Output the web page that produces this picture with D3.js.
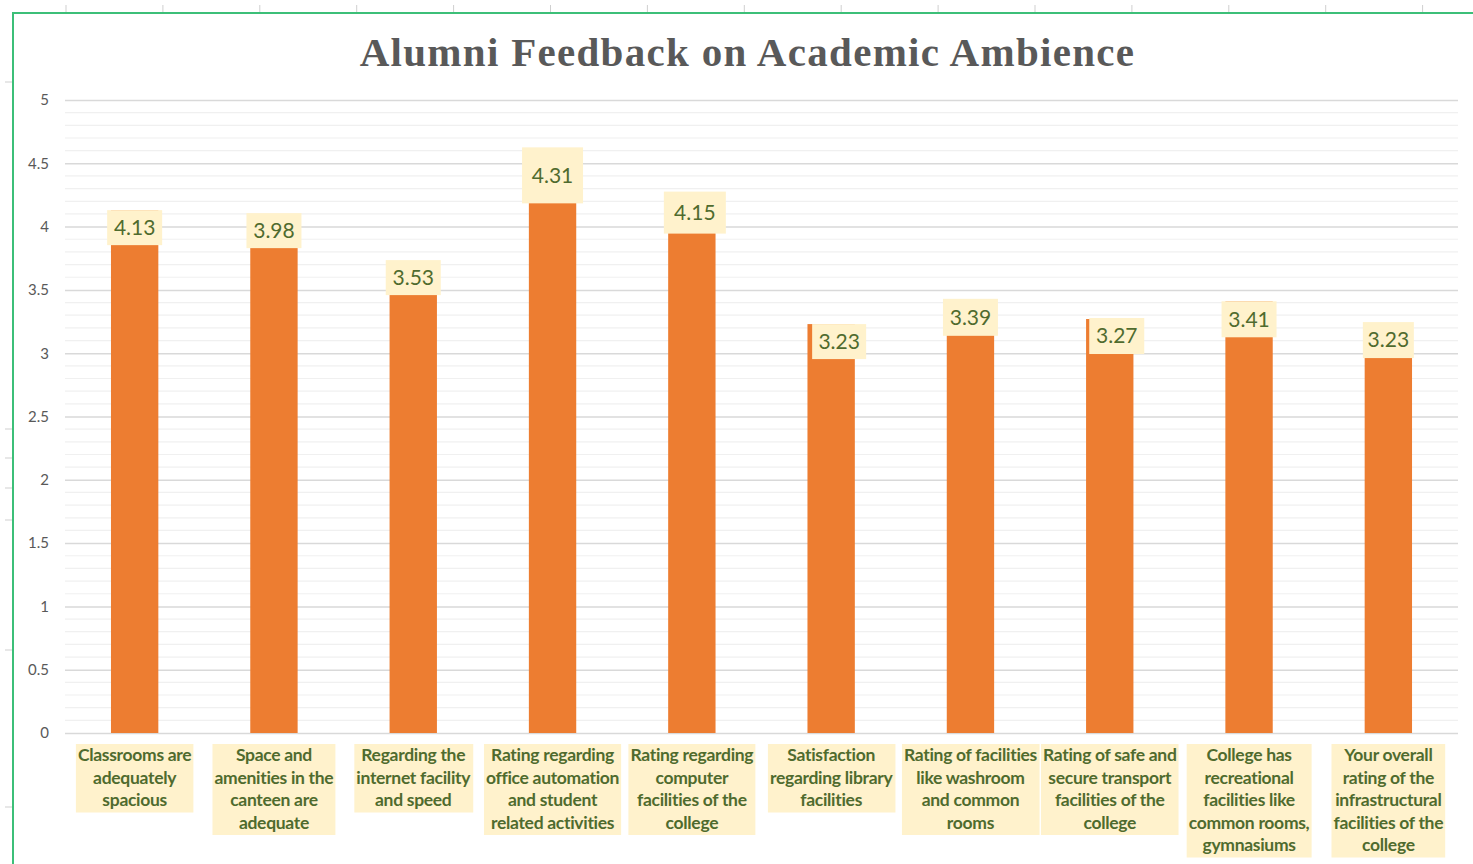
<!DOCTYPE html>
<html>
<head>
<meta charset="utf-8">
<script src="https://cdn.jsdelivr.net/npm/d3@7"></script>
<style>
  html, body { margin: 0; padding: 0; background: #fff; }
  svg { display: block; }
</style>
</head>
<body>
<div id="chart"></div>
<script>
// chart data
const categories = [
  ["Classrooms are", "adequately", "spacious"],
  ["Space and", "amenities in the", "canteen are", "adequate"],
  ["Regarding the", "internet facility", "and speed"],
  ["Rating regarding", "office automation", "and student", "related activities"],
  ["Rating regarding", "computer", "facilities of the", "college"],
  ["Satisfaction", "regarding library", "facilities"],
  ["Rating of facilities", "like washroom", "and common", "rooms"],
  ["Rating of safe and", "secure transport", "facilities of the", "college"],
  ["College has", "recreational", "facilities like", "common rooms,", "gymnasiums"],
  ["Your overall", "rating of the", "infrastructural", "facilities of the", "college"]
]
const values = [4.13, 3.98, 3.53, 4.31, 4.15, 3.23, 3.39, 3.27, 3.41, 3.23]
const yTicks = [0, 0.5, 1, 1.5, 2, 2.5, 3, 3.5, 4, 4.5, 5]
const title = "Alumni Feedback on Academic Ambience"

// label boxes were dragged around by hand in the original
// [dx from bar centre, box top relative to bar top, w, h]
const labelBox = [
  [0, 0, 55, 35], [0, -16, 55, 35], [0, -26, 55, 35], [0, -40, 61, 56], [3, -16, 62, 42],
  [8, 0, 54, 35], [0, -5, 55, 37], [7, -1, 55, 36], [0, 0, 55, 36], [0, -2, 51, 36]
]

const W = 1473, H = 864
const margin = {left: 65, right: 15, top: 100, bottom: 131}

const svg = d3.select("#chart")
    .append("svg")
    .attr("width", W)
    .attr("height", H)

// spreadsheet cell marks outside the chart frame
const colMarks = d3.range(66, W, 96.9)
svg.selectAll(".colmark").data(colMarks).enter()
    .append("line")
    .attr("x1", d => d).attr("x2", d => d)
    .attr("y1", 5).attr("y2", 12)
    .attr("stroke", "#cfcfcf")
const rowMarks = [82, 429, 458, 488, 520, 650, 807]
svg.selectAll(".rowmark").data(rowMarks).enter()
    .append("line")
    .attr("x1", 5).attr("x2", 12)
    .attr("y1", d => d).attr("y2", d => d)
    .attr("stroke", "#cfcfcf")

// green selection frame
svg.append("path")
    .attr("d", `M13,${H} L13,13 L${W},13`)
    .attr("fill", "none")
    .attr("stroke", "#3cbf78")
    .attr("stroke-width", 2)

const x = d3.scaleBand()
    .domain(d3.range(categories.length))
    .range([margin.left, W - margin.right])
    .paddingInner(0.66)
    .paddingOuter(0.33)

const y = d3.scaleLinear()
    .domain([0, 5])
    .range([H - margin.bottom, margin.top])

// minor grid
svg.append("g")
    .selectAll("line")
    .data(d3.range(0, 50).map(d => d / 10).filter(d => Math.round(d * 10) % 5 != 0))
    .enter().append("line")
    .attr("x1", margin.left).attr("x2", W - margin.right)
    .attr("y1", d => y(d)).attr("y2", d => y(d))
    .attr("stroke", "#f0f0f0")
    .attr("stroke-width", 1.2)

// major grid + labels via axis
const yAxis = d3.axisLeft(y)
    .tickValues(yTicks)
    .tickSize(-(W - margin.left - margin.right))
    .tickPadding(16)
    .tickFormat(d3.format("~g"))

const gy = svg.append("g")
    .attr("transform", `translate(${margin.left},0)`)
    .call(yAxis)
gy.select(".domain").remove()
gy.selectAll(".tick line").attr("stroke", "#d9d9d9").attr("stroke-width", 1.5)
gy.selectAll(".tick text")
    .attr("fill", "#595959")
    .style("font-family", "Lato, 'Open Sans', sans-serif")
    .style("font-size", "15px")

// bars
svg.append("g")
    .selectAll("rect")
    .data(values)
    .enter().append("rect")
    .attr("x", (d, i) => x(i))
    .attr("y", d => y(d))
    .attr("width", x.bandwidth())
    .attr("height", d => y(0) - y(d))
    .attr("fill", "#ed7d31")

// value labels
const vl = svg.append("g")
    .selectAll("g")
    .data(values)
    .enter().append("g")
    .attr("transform", (d, i) => `translate(${x(i) + x.bandwidth() / 2 + labelBox[i][0]},${y(d) + labelBox[i][1]})`)

vl.append("rect")
    .attr("x", (d, i) => -labelBox[i][2] / 2)
    .attr("y", 0)
    .attr("width", (d, i) => labelBox[i][2])
    .attr("height", (d, i) => labelBox[i][3])
    .attr("fill", "#fff2cc")

vl.append("text")
    .attr("text-anchor", "middle")
    .attr("y", (d, i) => labelBox[i][3] / 2)
    .attr("dy", "0.35em")
    .attr("fill", "#4f6b2e")
    .style("font-family", "Lato, 'Open Sans', sans-serif")
    .style("font-size", "21px")
    .text(d => d.toFixed(2))

// category labels
const cl = svg.append("g")
    .selectAll("g")
    .data(categories)
    .enter().append("g")
    .attr("transform", (d, i) => `translate(${x(i) + x.bandwidth() / 2},${y(0) + 11})`)

const lineH = 22.5
const cText = cl.append("text")
    .attr("text-anchor", "middle")
    .attr("fill", "#4f6b2e")
    .style("font-family", "Lato, 'Open Sans', sans-serif")
    .style("font-size", "17.5px")
    .style("font-weight", "bold")
    .style("letter-spacing", "-0.3px")

cText.selectAll("tspan")
    .data(d => d)
    .enter().append("tspan")
    .attr("x", 0)
    .attr("y", (d, j) => 17 + j * lineH)
    .text(d => d)

cl.each(function () {
    const g = d3.select(this)
    const bb = g.select("text").node().getBBox()
    g.insert("rect", "text")
        .attr("x", bb.x - 2)
        .attr("y", 0)
        .attr("width", bb.width + 4)
        .attr("height", g.selectAll("tspan").size() * lineH + 1)
        .attr("fill", "#fff2cc")
})

// title
svg.append("text")
    .attr("x", (margin.left + W - margin.right) / 2 - 14)
    .attr("y", 66)
    .attr("text-anchor", "middle")
    .attr("fill", "#595959")
    .style("font-family", "'Liberation Serif', 'DejaVu Serif', serif")
    .style("font-size", "41px")
    .style("font-weight", "bold")
    .style("letter-spacing", "1.3px")
    .text(title)
</script>
</body>
</html>
